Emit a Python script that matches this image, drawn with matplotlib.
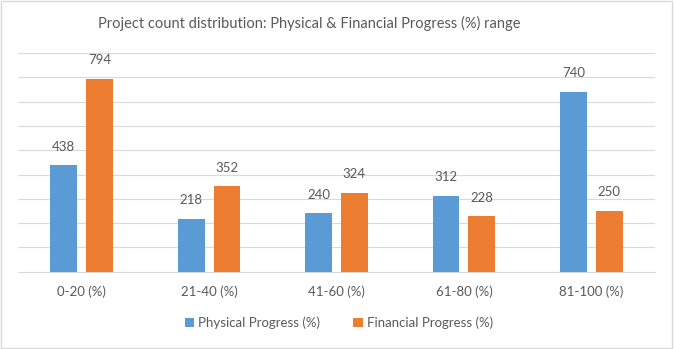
import matplotlib
matplotlib.use("Agg")
import matplotlib.pyplot as plt
import numpy as np

categories = ["0-20 (%)", "21-40 (%)", "41-60 (%)", "61-80 (%)", "81-100 (%)"]
physical = [438, 218, 240, 312, 740]
financial = [794, 352, 324, 228, 250]

plt.rcParams['font.family'] = ['Lato', 'DejaVu Sans']
txt = "#595959"

fig = plt.figure(figsize=(6.74, 3.49), dpi=100)
ax = fig.add_axes([18/674, 1-271.7/349, (655-18)/674, (271.7-53)/349])

x = np.arange(len(categories))
w = 0.21
off = 0.14
b1 = ax.bar(x - off, physical, w, color="#5b9bd5", label="Physical Progress (%)", zorder=3)
b2 = ax.bar(x + off, financial, w, color="#ed7d31", label="Financial Progress (%)", zorder=3)
for bars in (b1, b2):
    ax.bar_label(bars, padding=9, fontsize=9.5, color=txt)

ax.set_xlim(-0.5, 4.5)
ax.set_ylim(0, 900)
ax.set_yticks(range(0, 901, 100))
ax.yaxis.grid(True, color="#d9d9d9", linewidth=0.8, zorder=0)
ax.tick_params(axis="y", left=False, labelleft=False)
ax.tick_params(axis="x", length=0, pad=10, labelsize=9.5, labelcolor=txt)
ax.set_xticks(x)
ax.set_xticklabels(categories)
for s in ["top", "right", "left"]:
    ax.spines[s].set_visible(False)
ax.spines["bottom"].set_color("#d9d9d9")

fig.text(309/674, 1-23/349, "Project count distribution: Physical & Financial Progress (%) range",
         ha="center", va="center", fontsize=10.5, color=txt)
fig.legend(loc="center", bbox_to_anchor=(339/674, 1-323/349), ncol=2, frameon=False,
           fontsize=9.5, labelcolor=txt, handlelength=0.7, handleheight=0.7,
           handletextpad=0.3, columnspacing=2.5)

fig.patches.append(plt.Rectangle((0.002, 0.003), 0.995, 0.993, transform=fig.transFigure,
                                 fill=False, edgecolor="#d9d9d9", linewidth=1))
fig.savefig("out.png", dpi=100)
